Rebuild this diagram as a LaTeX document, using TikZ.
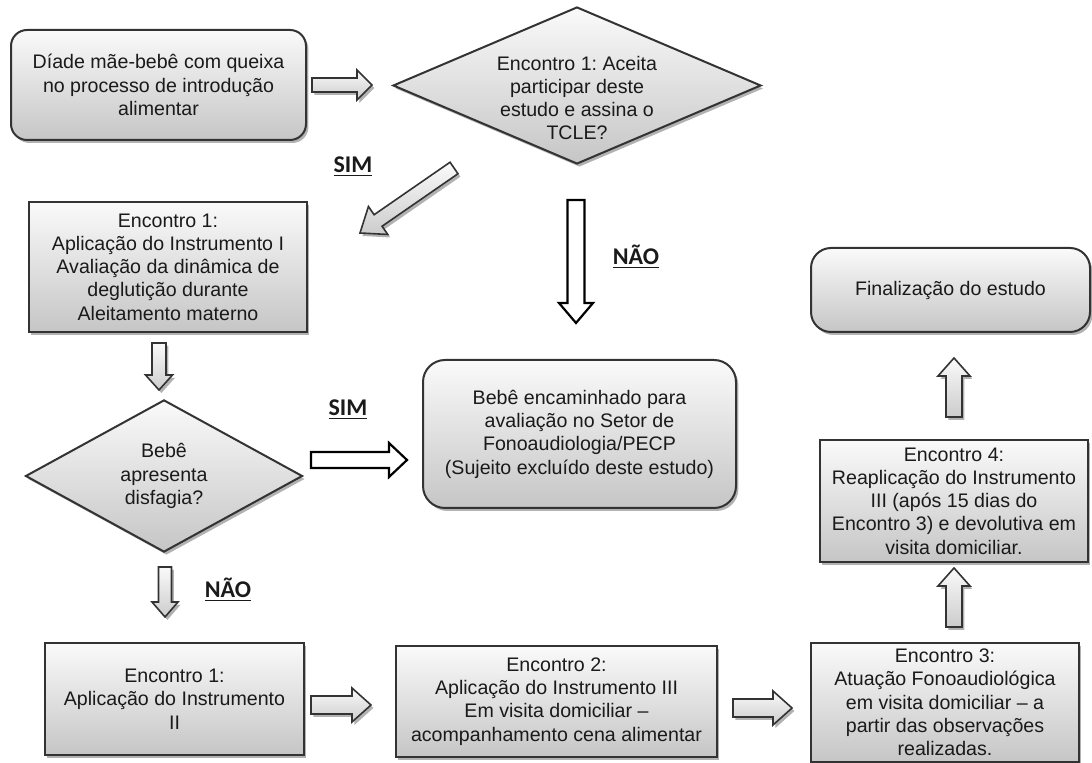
\documentclass[tikz,border=0pt]{standalone}
\usepackage{fontspec}
\setmainfont{Liberation Sans}
\newfontfamily\lblfont{Carlito}
\frenchspacing
\usetikzlibrary{shapes.geometric,shadows,calc}
\definecolor{bordc}{HTML}{333333}
\definecolor{txtc}{HTML}{1A1A1A}
\tikzset{
  x=0.5pt,y=-0.5pt,
  shad/.style={drop shadow={shadow xshift=1.2pt,shadow yshift=-1.5pt,opacity=0.3,fill=black}},
  base/.style={draw=bordc,line width=1pt,top color=gray!4,bottom color=gray!45,shad,
    align=center,text=txtc,font=\fontsize{9.8}{11.65}\selectfont,inner sep=0pt},
  sqbox/.style={base,rectangle},
  rdbox/.style={base,rectangle,rounded corners=#1},
  rdbox/.default=8pt,
  dia/.style={base,diamond},
  plain/.style={align=center,text=txtc,font=\fontsize{9.8}{11.65}\selectfont,inner sep=0pt},
  lbl/.style={font=\lblfont\bfseries\fontsize{12}{14}\selectfont,text=txtc,inner sep=0pt},
  garrow/.style={draw=bordc,line width=0.8pt,top color=gray!4,bottom color=gray!40,shad},
  warrow/.style={draw=black,line width=1.1pt,fill=white},
}
% block arrow: #1 style, #2 tail coord, #3 tip coord, #4 shaft half, #5 head half, #6 head length
\newcommand\blockarr[6]{%
  \coordinate (hb) at ($(#3)!#6!(#2)$);
  \draw[#1] ($(#2)!#4!90:(#3)$) -- ($(hb)!#4!90:(#3)$) -- ($(hb)!#5!90:(#3)$) -- (#3)
     -- ($(hb)!#5!-90:(#3)$) -- ($(hb)!#4!-90:(#3)$) -- ($(#2)!#4!-90:(#3)$) -- cycle;
}
\begin{document}
\begin{tikzpicture}
\useasboundingbox (0,0) rectangle (1092,763);

% nodes
\node[rdbox=8pt,minimum width=147.5pt,minimum height=55pt] (a) at (158.5,85)
  {Díade mãe-bebê com queixa\\no processo de introdução\\alimentar};
\node[dia,minimum width=184pt,minimum height=78.5pt] (d1) at (577,85.5) {};
\node[plain] (d1t) at (577,98) {Encontro 1: Aceita\\participar deste\\estudo e assina o\\TCLE?};
\node[sqbox,minimum width=139pt,minimum height=65pt] (b) at (168,267)
  {Encontro 1:\\Aplicação do Instrumento I\\Avaliação da dinâmica de\\deglutição durante\\Aleitamento materno};
\node[rdbox=11pt,minimum width=156.5pt,minimum height=74pt] (c) at (579.5,434)
  {Bebê encaminhado para\\avaliação no Setor de\\Fonoaudiologia/PECP\\(Sujeito excluído deste estudo)};
\node[dia,minimum width=138.5pt,minimum height=74pt] (d2) at (164,476)
  {Bebê\\apresenta\\disfagia?};
\node[rdbox=10pt,minimum width=139.5pt,minimum height=42pt] (f) at (950.5,290)
  {Finalização do estudo};
\node[sqbox,minimum width=134pt,minimum height=61pt] (e4) at (954,501)
  {Encontro 4:\\Reaplicação do Instrumento\\III (após 15 dias do\\Encontro 3) e devolutiva em\\visita domiciliar.};
\node[sqbox,minimum width=134pt,minimum height=59.5pt] (e3) at (945,702.5)
  {Encontro 3:\\Atuação Fonoaudiológica\\em visita domiciliar -- a\\partir das observações\\realizadas.};
\node[sqbox,minimum width=160.5pt,minimum height=55.5pt] (e2) at (556.5,701.5)
  {Encontro 2:\\Aplicação do Instrumento III\\Em visita domiciliar --\\acompanhamento cena alimentar};
\node[sqbox,minimum width=129.5pt,minimum height=56pt] (e1) at (174.5,699)
  {Encontro 1:\\Aplicação do Instrumento\\II};

% labels
\node[lbl] (sim1) at (353,167) {\underline{SIM}};
\node[lbl] (nao1) at (636,257) {\underline{NÃO}};
\node[lbl] (sim2) at (348,410) {\underline{SIM}};
\node[lbl] (nao2) at (228,590) {\underline{NÃO}};

% arrow end points
\coordinate (a1t) at (312,85);   \coordinate (a1h) at (372,85);
\coordinate (a2t) at (454,168);  \coordinate (a2h) at (360,233);
\coordinate (a3t) at (576,200);  \coordinate (a3h) at (576,323);
\coordinate (a4t) at (159,343);  \coordinate (a4h) at (159,390);
\coordinate (a5t) at (311,460);  \coordinate (a5h) at (407,460);
\coordinate (a6t) at (165,567);  \coordinate (a6h) at (165,617);
\coordinate (a7t) at (311,705);  \coordinate (a7h) at (371,705);
\coordinate (a8t) at (733,708);  \coordinate (a8h) at (792,708);
\coordinate (a9t) at (954,627);  \coordinate (a9h) at (954,568);
\coordinate (a10t) at (954,417); \coordinate (a10h) at (954,358);

\blockarr{garrow}{a1t}{a1h}{3.5pt}{7.5pt}{7.5pt}
\blockarr{garrow}{a2t}{a2h}{3.5pt}{8.5pt}{11pt}
\blockarr{warrow}{a3t}{a3h}{4.25pt}{8.5pt}{10pt}
\blockarr{garrow}{a4t}{a4h}{3.5pt}{6.75pt}{7.5pt}
\blockarr{warrow}{a5t}{a5h}{4pt}{8.5pt}{9pt}
\blockarr{garrow}{a6t}{a6h}{3.25pt}{6.5pt}{7.5pt}
\blockarr{garrow}{a7t}{a7h}{4.5pt}{8.5pt}{9.5pt}
\blockarr{garrow}{a8t}{a8h}{4.5pt}{8.5pt}{9.5pt}
\blockarr{garrow}{a9t}{a9h}{4pt}{8pt}{9pt}
\blockarr{garrow}{a10t}{a10h}{4pt}{8pt}{9pt}
\end{tikzpicture}
\end{document}
